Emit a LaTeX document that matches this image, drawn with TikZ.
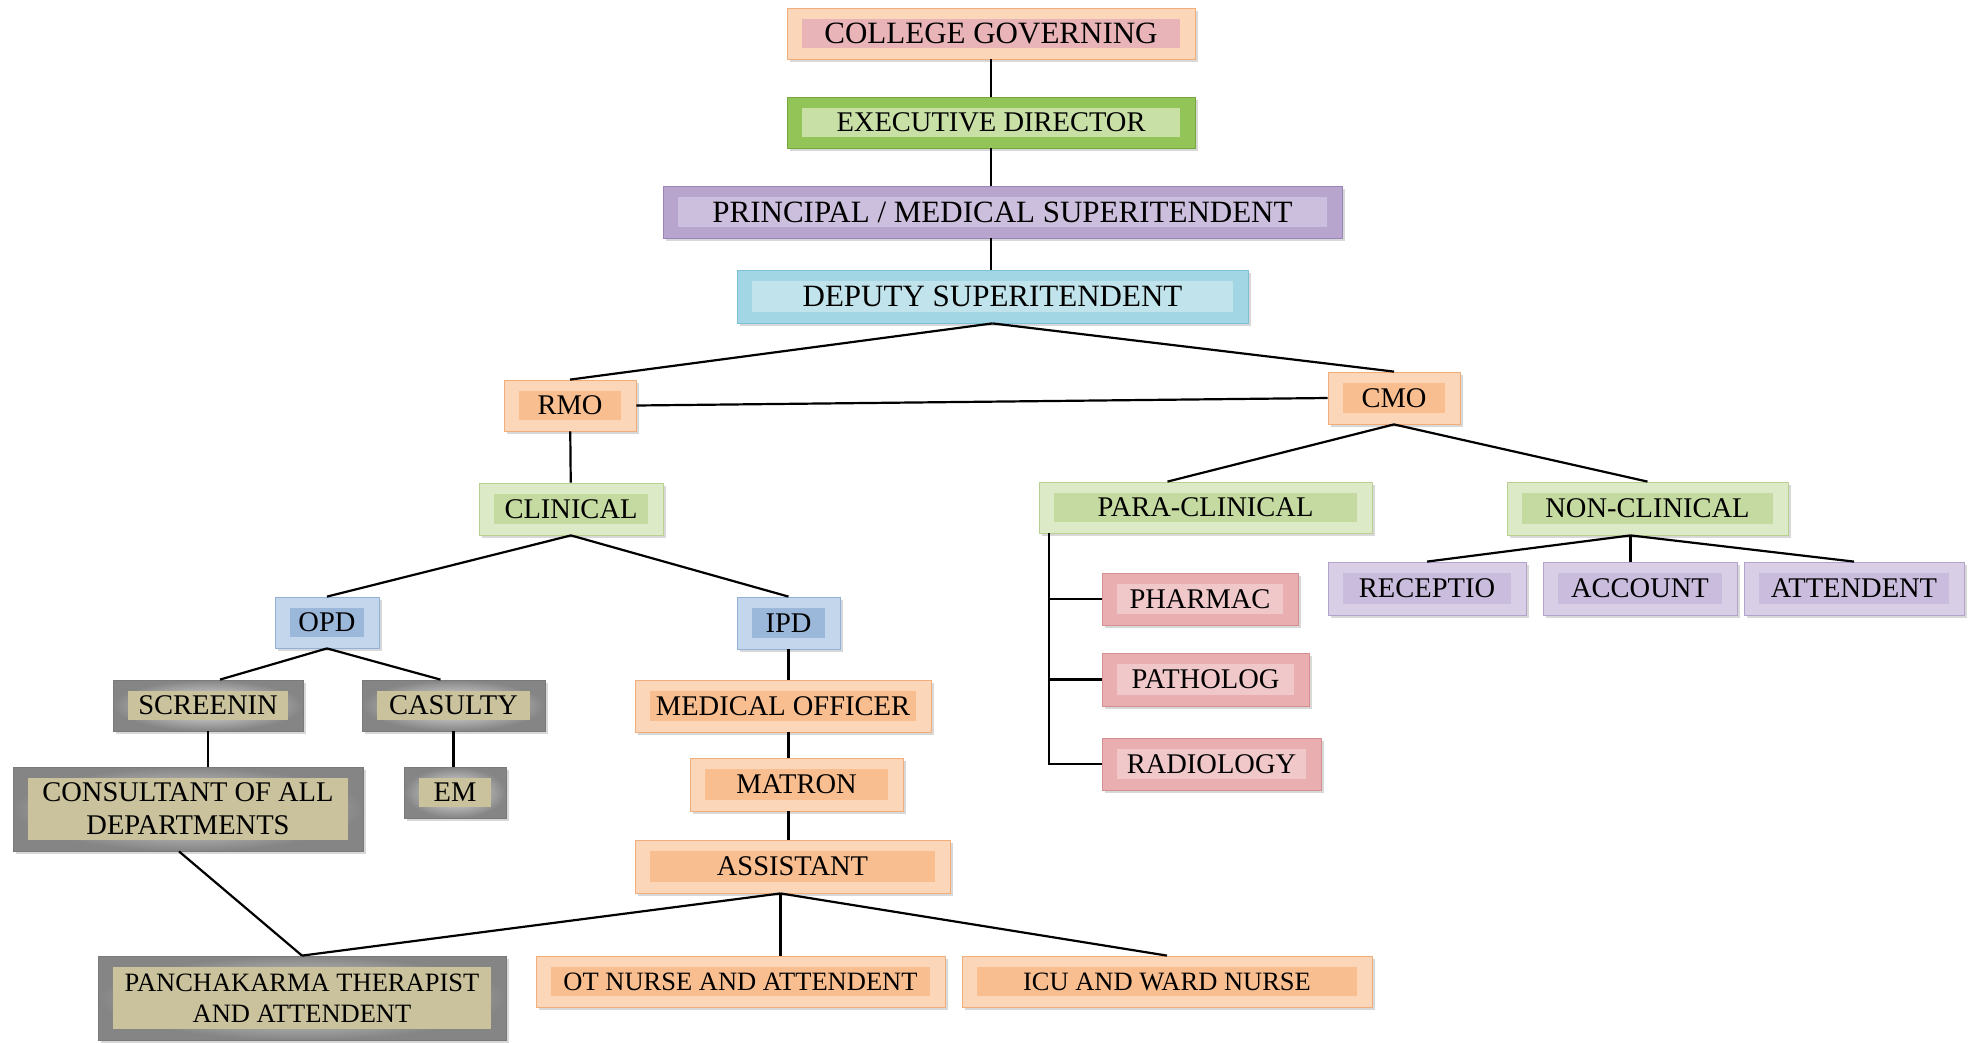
\documentclass[tikz,border=0pt]{standalone}
\usepackage{fontspec}
\setmainfont{Liberation Serif}
\usetikzlibrary{shadows}
\definecolor{orgedge}{HTML}{F2AE7A}
\definecolor{orgfill}{HTML}{FCD6B8}
\definecolor{orginner}{HTML}{F9BE90}
\definecolor{govinner}{HTML}{E8B4B8}
\definecolor{exedge}{HTML}{77A53E}
\definecolor{exfill}{HTML}{92C458}
\definecolor{exinner}{HTML}{C8E0A6}
\definecolor{grnedge}{HTML}{B9D08F}
\definecolor{grnfill}{HTML}{DDEAC8}
\definecolor{grninner}{HTML}{C5DAA0}
\definecolor{prpedge}{HTML}{9A84B8}
\definecolor{prpfill}{HTML}{B7A5CE}
\definecolor{prpinner}{HTML}{CCBFDD}
\definecolor{lprpedge}{HTML}{B3A2C9}
\definecolor{lprpfill}{HTML}{D8CEE6}
\definecolor{lprpinner}{HTML}{C9BCDC}
\definecolor{depedge}{HTML}{7EC1D4}
\definecolor{depfill}{HTML}{A3D6E4}
\definecolor{depinner}{HTML}{C1E4EC}
\definecolor{opdedge}{HTML}{92B1D6}
\definecolor{opdfill}{HTML}{C4D6EC}
\definecolor{opdinner}{HTML}{9BB8DB}
\definecolor{rededge}{HTML}{D58F92}
\definecolor{redfill}{HTML}{E8AEB0}
\definecolor{redinner}{HTML}{F0C8C9}
\definecolor{greyedge}{HTML}{7A7A7A}
\definecolor{greyinner}{HTML}{C9C29C}
\begin{document}
\begin{tikzpicture}[x=1pt,y=-1pt,line width=2.2pt,
  orgbox/.style n args={3}{rectangle,draw=#1,line width=0.8pt,fill=#2,
    path picture={\fill[#3] ([shift={(15pt,-11pt)}]path picture bounding box.north west)
      rectangle ([shift={(-15pt,11pt)}]path picture bounding box.south east);},
    drop shadow={shadow xshift=3pt,shadow yshift=-3pt,fill=black!30},
    inner sep=0pt,align=center,font=\fontsize{28.5}{33}\selectfont},
  wh/.style 2 args={minimum width=#1pt,minimum height=#2pt},
  govbox/.style={orgbox={orgedge}{orgfill}{govinner}},
  peach/.style={orgbox={orgedge}{orgfill}{orginner}},
  exgreen/.style={orgbox={exedge}{exfill}{exinner}},
  green/.style={orgbox={grnedge}{grnfill}{grninner}},
  purple/.style={orgbox={prpedge}{prpfill}{prpinner}},
  lpurple/.style={orgbox={lprpedge}{lprpfill}{lprpinner}},
  cyan/.style={orgbox={depedge}{depfill}{depinner}},
  blue/.style={orgbox={opdedge}{opdfill}{opdinner}},
  rose/.style={orgbox={rededge}{redfill}{redinner}},
  grey/.style={orgbox={greyedge}{white}{greyinner},inner color=black!6,outer color=black!48},
  big/.style={font=\fontsize{31}{35}\selectfont},
  small/.style={font=\fontsize{26.5}{31}\selectfont}]
\useasboundingbox (0,0) rectangle (1972,1042);
% top of the chart
\node[govbox,big,wh={408}{51}] (gov) at (991,33.5) {COLLEGE GOVERNING};
\node[exgreen,wh={408}{51}] (exec) at (991,122.5) {EXECUTIVE DIRECTOR};
\node[purple,big,wh={679}{52}] (princ) at (1002.5,212) {PRINCIPAL / MEDICAL SUPERITENDENT};
\node[cyan,big,wh={511}{53}] (dep) at (992.5,296.5) {DEPUTY SUPERITENDENT};
\node[peach,wh={132}{51}] (rmo) at (570,405.5) {RMO};
\node[peach,wh={132}{52}] (cmo) at (1394,398) {CMO};
% clinical side
\node[green,wh={184}{52}] (clin) at (571,509) {CLINICAL};
\node[blue,wh={104}{51}] (opd) at (327,622.5) {OPD};
\node[blue,wh={103}{52}] (ipd) at (788.5,623) {IPD};
\node[grey,wh={190}{51}] (scr) at (208,705.5) {SCREENIN};
\node[grey,wh={183}{51}] (cas) at (453.5,705.5) {CASULTY};
\node[grey,wh={350}{84}] (cons) at (188,809) {CONSULTANT OF ALL\\DEPARTMENTS};
\node[grey,wh={102}{51}] (em) at (455,792.5) {EM};
\node[peach,wh={296}{52}] (mo) at (783,706) {MEDICAL OFFICER};
\node[peach,wh={213}{53}] (mat) at (796.5,784.5) {MATRON};
\node[peach,wh={315}{53}] (asst) at (792.5,866.5) {ASSISTANT};
\node[grey,small,wh={408}{84}] (panch) at (302,998) {PANCHAKARMA THERAPIST\\AND ATTENDENT};
\node[peach,small,wh={409}{51}] (ot) at (740.5,981.5) {OT NURSE AND ATTENDENT};
\node[peach,small,wh={410}{51}] (icu) at (1167,981.5) {ICU AND WARD NURSE};
% para and non clinical side
\node[green,wh={333}{51}] (para) at (1205.5,507.5) {PARA-CLINICAL};
\node[green,wh={281}{53}] (non) at (1647.5,508.5) {NON-CLINICAL};
\node[rose,wh={196}{52}] (pharm) at (1200,599) {PHARMAC};
\node[rose,wh={207}{53}] (path) at (1205.5,679.5) {PATHOLOG};
\node[rose,wh={219}{52}] (radio) at (1211.5,764) {RADIOLOGY};
\node[lpurple,wh={198}{53}] (recep) at (1427,588.5) {RECEPTIO};
\node[lpurple,wh={194}{53}] (acct) at (1640,588.5) {ACCOUNT};
\node[lpurple,wh={220}{53}] (att) at (1854,588.5) {ATTENDENT};
% connectors
\draw (gov) -- (exec);
\draw (exec) -- (princ.north -| exec.south);
\draw (princ.south -| exec.south) -- (dep.north -| exec.south);
\draw (dep.south) -- (rmo.north);
\draw (dep.south) -- (cmo.north);
\draw (rmo.east) -- (cmo.west);
\draw (rmo) -- (clin);
\draw (clin.south) -- (opd.north);
\draw (clin.south) -- (ipd.north);
\draw (opd.south) -- ([xshift=12pt]scr.north);
\draw (opd.south) -- ([xshift=-13pt]cas.north);
\draw (scr.south) -- (scr.south |- cons.north);
\draw (cas.south) -- (cas.south |- em.north);
\draw (ipd.south) -- (ipd.south |- mo.north);
\draw (ipd.south |- mo.south) -- (ipd.south |- mat.north);
\draw (ipd.south |- mat.south) -- (ipd.south |- asst.north);
\coordinate (hub) at ([xshift=-12pt]asst.south);
\draw (hub) -- (panch.north);
\draw (hub) -- (hub |- ot.north);
\draw (hub) -- (icu.north);
\draw ([xshift=-9pt]cons.south) -- (panch.north);
\draw (cmo.south) -- ([xshift=-38pt]para.north);
\draw (cmo.south) -- (non.north);
\draw ([xshift=10pt]para.south west) coordinate (trunk) |- (radio.west);
\draw (trunk |- pharm.west) -- (pharm.west);
\draw (trunk |- path.west) -- (path.west);
\coordinate (nonhub) at ([xshift=-17pt]non.south);
\draw (nonhub) -- (recep.north);
\draw (nonhub) -- (nonhub |- acct.north);
\draw (nonhub) -- (att.north);
\end{tikzpicture}
\end{document}
